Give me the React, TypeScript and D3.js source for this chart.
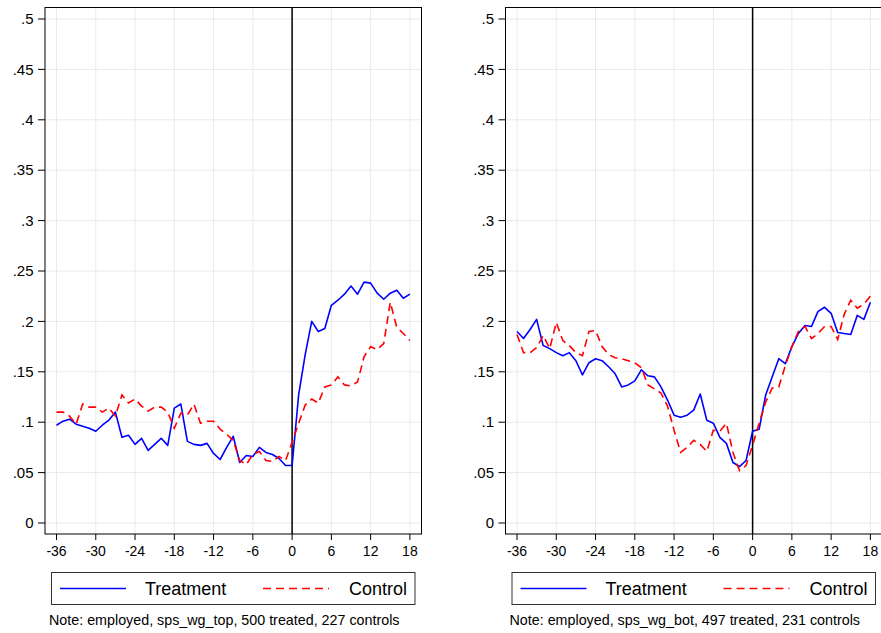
import React from "react";
import * as d3 from "d3";

// Event-time months, -36 .. 18
const months: number[] = d3.range(-36, 19);

const yTicks: number[] = [0, 0.05, 0.1, 0.15, 0.2, 0.25, 0.3, 0.35, 0.4, 0.45, 0.5];
const yTickLabels: string[] = ["0", ".05", ".1", ".15", ".2", ".25", ".3", ".35", ".4", ".45", ".5"];
const xTicks: number[] = [-36, -30, -24, -18, -12, -6, 0, 6, 12, 18];

// Panel 1: sps_wg_top
const topTreatment: number[] = [
  0.097, 0.101, 0.103, 0.098, 0.096, 0.094, 0.091, 0.097, 0.102, 0.110,
  0.085, 0.087, 0.078, 0.084, 0.072, 0.078, 0.084, 0.077, 0.114, 0.118,
  0.081, 0.078, 0.077, 0.079, 0.069, 0.063, 0.075, 0.086, 0.060, 0.067,
  0.066, 0.075, 0.070, 0.068, 0.064, 0.057, 0.057,
  0.127, 0.167, 0.200, 0.190, 0.193, 0.216, 0.221, 0.227, 0.235, 0.227,
  0.239, 0.238, 0.228, 0.222, 0.228, 0.231, 0.223, 0.227,
];
const topControl: number[] = [
  0.110, 0.110, 0.106, 0.098, 0.118, 0.115, 0.115, 0.110, 0.114, 0.106,
  0.127, 0.119, 0.123, 0.116, 0.111, 0.115, 0.115, 0.110, 0.094, 0.109,
  0.107, 0.118, 0.099, 0.101, 0.101, 0.093, 0.088, 0.082, 0.062, 0.058,
  0.068, 0.071, 0.062, 0.061, 0.066, 0.062, 0.080,
  0.099, 0.117, 0.123, 0.119, 0.135, 0.137, 0.145, 0.137, 0.136, 0.140,
  0.165, 0.175, 0.172, 0.178, 0.219, 0.194, 0.188, 0.181,
];

// Panel 2: sps_wg_bot
const botTreatment: number[] = [
  0.190, 0.183, 0.192, 0.202, 0.176, 0.173, 0.169, 0.166, 0.169, 0.161,
  0.147, 0.159, 0.163, 0.161, 0.155, 0.148, 0.135, 0.137, 0.141, 0.152,
  0.146, 0.145, 0.135, 0.122, 0.107, 0.105, 0.107, 0.112, 0.128, 0.102,
  0.099, 0.085, 0.079, 0.060, 0.056, 0.062, 0.091,
  0.093, 0.127, 0.145, 0.163, 0.158, 0.175, 0.188, 0.196, 0.195, 0.210,
  0.214, 0.208, 0.189, 0.188, 0.187, 0.206, 0.202, 0.219,
];
const botControl: number[] = [
  0.187, 0.169, 0.169, 0.174, 0.186, 0.173, 0.199, 0.181, 0.176, 0.169,
  0.166, 0.190, 0.191, 0.175, 0.167, 0.164, 0.163, 0.161, 0.159, 0.154,
  0.137, 0.133, 0.129, 0.116, 0.092, 0.070, 0.075, 0.082, 0.078, 0.071,
  0.092, 0.091, 0.099, 0.070, 0.052, 0.057, 0.077,
  0.099, 0.120, 0.134, 0.135, 0.156, 0.175, 0.190, 0.195, 0.183, 0.188,
  0.195, 0.195, 0.182, 0.207, 0.221, 0.213, 0.217, 0.225,
];

const seriesNames: string[] = ["Treatment", "Control"];
const notes: string[] = [
  "Note: employed, sps_wg_top, 500 treated, 227 controls",
  "Note: employed, sps_wg_bot, 497 treated, 231 controls",
];

const FONT = "'Liberation Sans', Arial, sans-serif";
const BLUE = "#0000ff";
const RED = "#ff0000";
const DASH = "8,5";

type PanelProps = {
  left: number;
  treatment: number[];
  control: number[];
  note: string;
};

function Panel({ left, treatment, control, note }: PanelProps) {
  const frameTop = 7.5;
  const frameBottom = 534;
  const frameW = 376.5;
  const x = d3.scaleLinear().domain([-36, 18]).range([left + 11.5, left + 11.5 + 353.4]);
  const y = d3.scaleLinear().domain([0, 0.5]).range([523, 19]);
  const line = d3
    .line<number>()
    .x((_, i) => x(months[i]))
    .y((d) => y(d));

  const legTop = 572.5;
  const legH = 32;
  const legW = 363.5;
  const legY = 588.5;

  return (
    <g>
      {/* grid */}
      {yTicks.map((t) => (
        <line key={"gy" + t} x1={left} x2={left + frameW} y1={y(t)} y2={y(t)} stroke="#eaeaea" strokeWidth={1} />
      ))}
      {xTicks.map((t) => (
        <line key={"gx" + t} x1={x(t)} x2={x(t)} y1={frameTop} y2={frameBottom} stroke="#eaeaea" strokeWidth={1} />
      ))}
      {/* event line */}
      <line x1={x(0)} x2={x(0)} y1={frameTop} y2={frameBottom} stroke="#000" strokeWidth={1.5} />
      {/* series */}
      <path d={line(treatment) || ""} fill="none" stroke={BLUE} strokeWidth={1.6} strokeLinejoin="round" />
      <path d={line(control) || ""} fill="none" stroke={RED} strokeWidth={1.6} strokeDasharray={DASH} />
      {/* frame */}
      <rect x={left} y={frameTop} width={frameW} height={frameBottom - frameTop} fill="none" stroke="#000" strokeWidth={1} />
      {/* y axis */}
      {yTicks.map((t, i) => (
        <g key={"ty" + t}>
          <line x1={left - 7} x2={left} y1={y(t)} y2={y(t)} stroke="#000" strokeWidth={1} />
          <text x={left - 11.5} y={y(t)} dy="0.35em" textAnchor="end" fontSize={15} fontFamily={FONT} fill="#000">
            {yTickLabels[i]}
          </text>
        </g>
      ))}
      {/* x axis */}
      {xTicks.map((t) => (
        <g key={"tx" + t}>
          <line x1={x(t)} x2={x(t)} y1={frameBottom} y2={frameBottom + 6} stroke="#000" strokeWidth={1} />
          <text x={x(t)} y={556} textAnchor="middle" fontSize={14} fontFamily={FONT} fill="#000">
            {t}
          </text>
        </g>
      ))}
      {/* legend */}
      <rect x={left + 6.5} y={legTop} width={legW} height={legH} fill="#fff" stroke="#333" strokeWidth={1} />
      <line x1={left + 15} x2={left + 81} y1={legY} y2={legY} stroke={BLUE} strokeWidth={1.4} />
      <text x={left + 100} y={595} fontSize={18} fontFamily={FONT} fill="#000">
        {seriesNames[0]}
      </text>
      <line x1={left + 218} x2={left + 284} y1={legY} y2={legY} stroke={RED} strokeWidth={1.4} strokeDasharray={DASH} />
      <text x={left + 304} y={595} fontSize={18} fontFamily={FONT} fill="#000">
        {seriesNames[1]}
      </text>
      {/* note */}
      <text x={left + 4} y={625} fontSize={14.3} fontFamily={FONT} fill="#000">
        {note}
      </text>
    </g>
  );
}

export default function App() {
  return (
    <svg
      width={881}
      height={633}
      style={{ position: "absolute", left: 0, top: 0, background: "#fff" }}
    >
      <rect x={0} y={0} width={881} height={633} fill="#fff" />
      <Panel left={45} treatment={topTreatment} control={topControl} note={notes[0]} />
      <Panel left={505.5} treatment={botTreatment} control={botControl} note={notes[1]} />
    </svg>
  );
}
